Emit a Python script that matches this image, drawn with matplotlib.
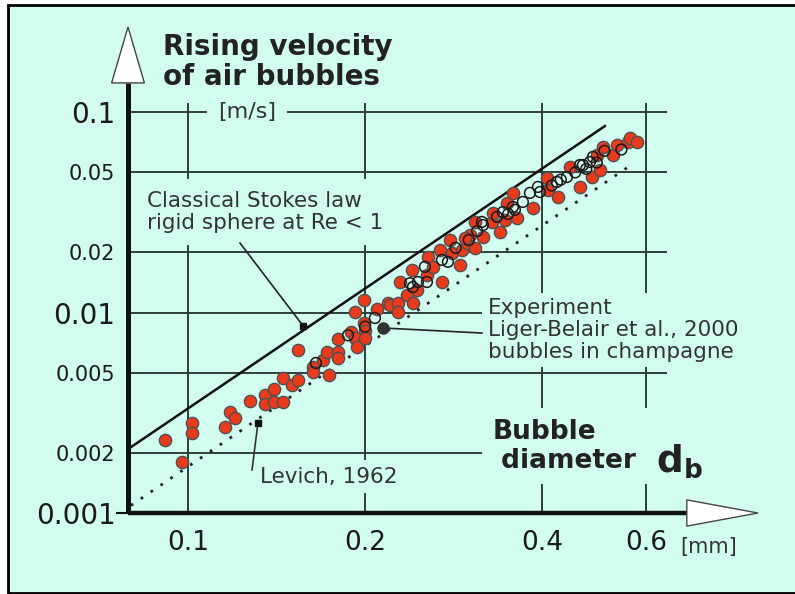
import numpy as np
import matplotlib.pyplot as plt
from matplotlib.patches import Rectangle, Polygon

plt.rcParams['font.family'] = ['DejaVu Sans']

# axis ticks
d_ticks = [0.1, 0.2, 0.4, 0.6]
d_labels = ['0.1', '0.2', '0.4', '0.6']
v_ticks = [0.001, 0.002, 0.005, 0.01, 0.02, 0.05, 0.1]
v_labels = ['0.001', '0.002', '0.005', '0.01', '0.02', '0.05', '0.1']

# theory lines (end points, mm and m/s)
stokes_d = [0.080, 0.511]
stokes_v = [0.00213, 0.0851]
levich_d = [0.080, 0.568]
levich_v = [0.00109, 0.0548]

# experiment, filled red points
red_d = [0.0914, 0.0977, 0.1016, 0.1016, 0.1156, 0.1179, 0.1202, 0.1274, 0.1352, 0.1352,
         0.1400, 0.1400, 0.1450, 0.1450, 0.1502, 0.1538, 0.1538, 0.1631, 0.1631, 0.1696,
         0.1723, 0.1736, 0.1798, 0.1798, 0.1798, 0.1892, 0.1921, 0.1921, 0.1937, 0.1991,
         0.1991, 0.1999, 0.1999, 0.2095, 0.2187, 0.2204, 0.2274, 0.2274, 0.2292, 0.2355,
         0.2411, 0.2402, 0.2449, 0.2547, 0.2557, 0.2607, 0.2701, 0.2680, 0.2787, 0.2809,
         0.2898, 0.2921, 0.2979, 0.3014, 0.3073, 0.3073, 0.3171, 0.3284, 0.3388, 0.3297,
         0.3483, 0.3622, 0.3455, 0.3565, 0.3856, 0.4089, 0.4073, 0.4252, 0.4457, 0.4634,
         0.4857, 0.5012, 0.4953, 0.2955, 0.5071, 0.5272, 0.5356, 0.5593, 0.5637, 0.5793]
red_v = [0.00231, 0.00180, 0.00281, 0.00251, 0.00269, 0.00319, 0.00298, 0.00362, 0.00388, 0.00350,
         0.00415, 0.00358, 0.00358, 0.00471, 0.00435, 0.00461, 0.00650, 0.00535, 0.00505, 0.00580,
         0.00635, 0.00488, 0.00635, 0.00593, 0.00738, 0.00799, 0.00746, 0.01006, 0.00673, 0.01154,
         0.00886, 0.00808, 0.00746, 0.01041, 0.01115, 0.0109, 0.01115, 0.01006, 0.0142, 0.01223,
         0.01115, 0.0163, 0.0130, 0.0154, 0.0189, 0.0169, 0.0142, 0.0205, 0.0230, 0.0198,
         0.0173, 0.0205, 0.0222, 0.0244, 0.0210, 0.0283, 0.0238, 0.0283, 0.0252, 0.0314,
         0.0352, 0.0296, 0.0289, 0.0395, 0.0332, 0.0408, 0.0469, 0.0377, 0.0532, 0.0423,
         0.0474, 0.0514, 0.0610, 0.0235, 0.0669, 0.0610, 0.0685, 0.0709, 0.0742, 0.0709]

# experiment, open circles
open_d = [0.1650, 0.1870, 0.2000, 0.2078, 0.2383, 0.2411, 0.2459, 0.2547, 0.2527, 0.2701,
          0.2765, 0.2850, 0.3000, 0.3100, 0.3158, 0.3171, 0.3350, 0.3428, 0.3500, 0.3565,
          0.3593, 0.3707, 0.3811, 0.3932, 0.3963, 0.4150, 0.4235, 0.4300, 0.4404, 0.4550,
          0.4634, 0.4689, 0.4750, 0.4819, 0.4876, 0.4950, 0.5100, 0.5450]
open_v = [0.00560, 0.00770, 0.00850, 0.00939, 0.0140, 0.0134, 0.0142, 0.0142, 0.0169, 0.0183,
          0.0179, 0.0210, 0.0230, 0.0255, 0.0283, 0.0273, 0.0300, 0.0317, 0.0310, 0.0336,
          0.0325, 0.0356, 0.0395, 0.0423, 0.0399, 0.0430, 0.0448, 0.0460, 0.0474, 0.0500,
          0.0544, 0.0544, 0.0520, 0.0563, 0.0597, 0.0560, 0.0640, 0.0650]

bg = '#d2fcf0'
grid_c = '#2e3d3a'
txt_c = '#333333'

fig = plt.figure(figsize=(7.95, 5.94), dpi=100)
fig.patches.append(Rectangle((8/795, 1/594), 1.0, 588/594, transform=fig.transFigure,
                             fc=bg, ec='black', lw=2, zorder=-10))

ax = fig.add_axes([128/795, 81/594, 630/795, 486/594])
ax.set_facecolor('none')
ax.set_xscale('log')
ax.set_yscale('log')
ax.set_xlim(0.0791, 0.93)
ax.set_ylim(0.001, 0.2655)
for s in ax.spines.values():
    s.set_visible(False)

# grid
ax.hlines(v_ticks[1:], 0.0791, 0.651, color=grid_c, lw=1.4, zorder=1)
ax.vlines(d_ticks, 0.001, 0.111, color=grid_c, lw=1.4, zorder=1)

# axes with arrows
ax.plot([0, 0.887], [0, 0], transform=ax.transAxes, color='#111111', lw=3.2,
        solid_capstyle='butt', clip_on=False, zorder=6)
ax.plot([0, 0], [0, 0.885], transform=ax.transAxes, color='#111111', lw=3.6,
        solid_capstyle='butt', clip_on=False, zorder=6)
ax.plot([-0.018, 0], [0, 0], transform=ax.transAxes, color='#111111', lw=1.5, clip_on=False, zorder=6)
ax.add_patch(Polygon([(0.887, -0.027), (0.887, 0.027), (1.0, 0)], closed=True,
                     transform=ax.transAxes, fc='white', ec='#444444', lw=1, clip_on=False, zorder=7))
ax.add_patch(Polygon([(-0.026, 0.885), (0.026, 0.885), (0, 1.0)], closed=True,
                     transform=ax.transAxes, fc='white', ec='#444444', lw=1, clip_on=False, zorder=7))

# theory lines
ax.plot(stokes_d, stokes_v, color='#111111', lw=1.8, zorder=3)
ax.plot(levich_d, levich_v, color='#222222', lw=2, linestyle=(0, (1, 3.3)), zorder=3)

# data
ax.scatter(red_d, red_v, s=78, c='#ea3a1c', edgecolors='#505050', linewidths=1.0, zorder=4)
ax.scatter(open_d, open_v, s=60, facecolors='none', edgecolors='#1a1a1a', linewidths=1.1, zorder=5)

# ticks
ax.set_xticks(d_ticks, d_labels)
ax.set_yticks(v_ticks, v_labels)
ax.minorticks_off()
ax.tick_params(axis='x', length=0, pad=12, labelsize=19, labelcolor='#1a1a1a')
ax.tick_params(axis='y', length=0, pad=9, labelcolor='#1a1a1a')
for lab in ax.get_yticklabels():
    if lab.get_text() in ('0.1', '0.01', '0.001'):
        lab.set_fontsize(20)
    else:
        lab.set_fontsize(15)

# labels
ax.text(0.0556, 0.988, 'Rising velocity\nof air bubbles', transform=ax.transAxes,
        ha='left', va='top', fontsize=20, fontweight='bold', color='#222222', linespacing=1.1)
ax.text(0.1259, 0.1, '[m/s]', ha='center', va='center', fontsize=16, color=txt_c,
        bbox=dict(boxstyle='square,pad=0.5', fc=bg, ec='none'), zorder=2)
ax.text(0.876, -0.070, '[mm]', transform=ax.transAxes, ha='left', va='center',
        fontsize=15, color=txt_c)
ax.text(0.578, 0.137, 'Bubble\n diameter  ', transform=ax.transAxes, ha='left', va='center',
        fontsize=19, fontweight='bold', color='#222222', linespacing=1.15,
        bbox=dict(boxstyle='square,pad=0.4', fc=bg, ec='none'), zorder=2)
ax.text(0.838, 0.084, r'$\mathbf{d}_{\mathbf{b}}$', transform=ax.transAxes, ha='left',
        va='baseline', fontsize=27, color='#222222', zorder=3)

ax.text(0.0302, 0.619, 'Classical Stokes law\nrigid sphere at Re < 1', transform=ax.transAxes,
        ha='left', va='center', fontsize=15.5, color=txt_c, linespacing=1.15,
        bbox=dict(boxstyle='square,pad=0.55', fc=bg, ec='none'), zorder=2)
ax.text(0.571, 0.3765, 'Experiment\nLiger-Belair et al., 2000\nbubbles in champagne',
        transform=ax.transAxes, ha='left', va='center', fontsize=15.5, color=txt_c,
        linespacing=1.1, bbox=dict(boxstyle='square,pad=0.25', fc=bg, ec='none'), zorder=2)
ax.text(0.1737, 0.00152, 'Levich, 1962', ha='center', va='center', fontsize=15.5,
        color=txt_c, bbox=dict(boxstyle='square,pad=0.3', fc=bg, ec='none'), zorder=2)

# leaders
ax.plot([0.1226, 0.1568], [0.0222, 0.0086], color='#222222', lw=1.2, zorder=6)
ax.plot([0.1568], [0.0086], marker='s', ms=5, color='#111111', zorder=6)
ax.plot([0.1285, 0.1315], [0.00164, 0.00281], color='#333333', lw=1.2, zorder=6)
ax.plot([0.1315], [0.00281], marker='s', ms=5, color='#111111', zorder=6)
ax.plot([0.3158, 0.2145], [0.0079, 0.00837], color='#222222', lw=1.2, zorder=6)
ax.plot([0.2145], [0.00837], marker='o', ms=8, color='#333333', zorder=6)

fig.savefig('out.png', dpi=100)
